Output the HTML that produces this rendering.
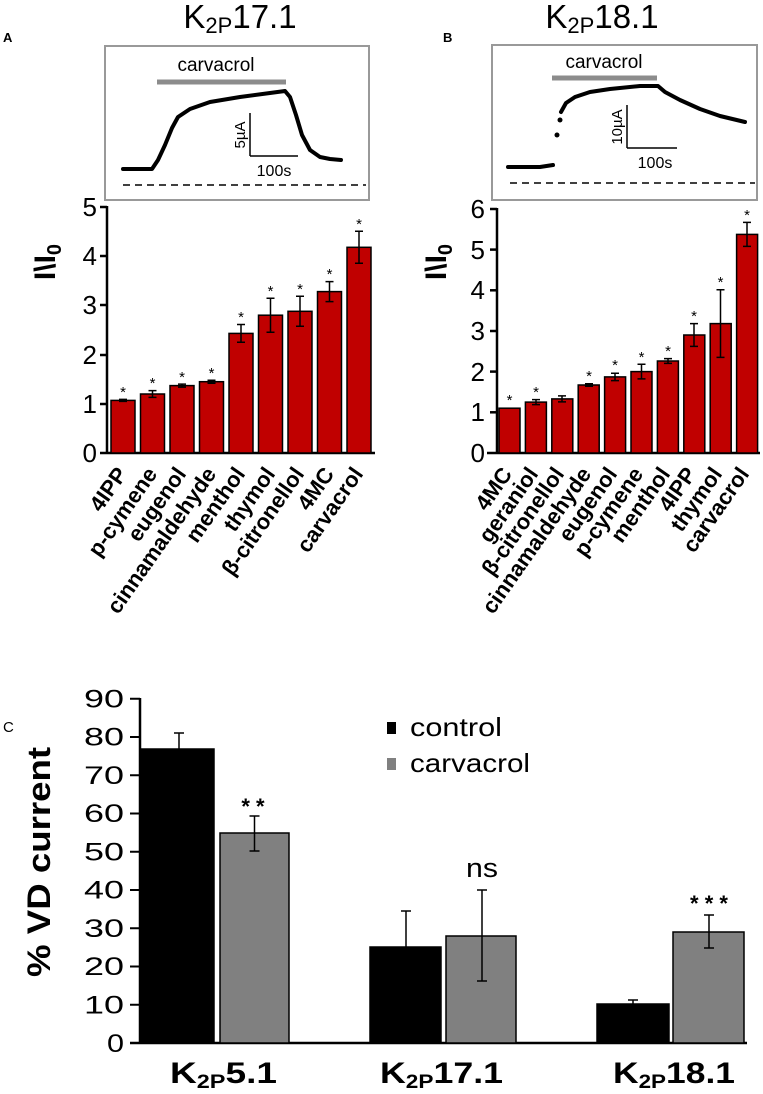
<!DOCTYPE html>
<html><head><meta charset="utf-8"><style>
html,body{margin:0;padding:0;background:#fff;overflow:hidden;}
svg{display:block;font-family:"Liberation Sans",Arial,sans-serif;}
</style></head><body>
<svg width="763" height="1094" viewBox="0 0 763 1094" xmlns="http://www.w3.org/2000/svg">
<!-- Titles -->
<text x="240" y="28" font-size="33" text-anchor="middle">K<tspan font-size="22" dy="5">2P</tspan><tspan dy="-5">17.1</tspan></text>
<text x="602" y="28" font-size="33" text-anchor="middle">K<tspan font-size="22" dy="5">2P</tspan><tspan dy="-5">18.1</tspan></text>
<text x="3" y="42" font-size="13" font-weight="bold">A</text>
<text x="443" y="42" font-size="13" font-weight="bold">B</text>
<text x="3" y="732" font-size="15">C</text>

<!-- Inset A -->
<rect x="105" y="46" width="264" height="154" fill="none" stroke="#999" stroke-width="2"/>
<text x="216" y="71" font-size="19" text-anchor="middle">carvacrol</text>
<line x1="157" y1="82" x2="286" y2="82" stroke="#8c8c8c" stroke-width="5"/>
<polyline fill="none" stroke="#000" stroke-width="4" stroke-linecap="round" stroke-linejoin="round" points="123,169 152,169 158,160 165,145 172,128 178,117 190,109 210,102 240,97 270,93 285,91 290,97 296,115 302,135 310,150 320,157 330,159 341,160"/>
<line x1="250" y1="113" x2="250" y2="156" stroke="#000" stroke-width="1.5"/>
<line x1="250" y1="156" x2="298" y2="156" stroke="#000" stroke-width="1.5"/>
<text transform="translate(245,135) rotate(-90)" font-size="15" text-anchor="middle">5µA</text>
<text x="274" y="176" font-size="16" text-anchor="middle">100s</text>
<line x1="123" y1="185" x2="366" y2="185" stroke="#000" stroke-width="1.5" stroke-dasharray="7,5"/>

<!-- Inset B -->
<rect x="492" y="45" width="265" height="155" fill="none" stroke="#999" stroke-width="2"/>
<text x="604" y="68" font-size="19" text-anchor="middle">carvacrol</text>
<line x1="552" y1="78" x2="657" y2="78" stroke="#8c8c8c" stroke-width="5"/>
<polyline fill="none" stroke="#000" stroke-width="4" stroke-linecap="round" stroke-linejoin="round" points="508,167 540,167 553,165"/>
<circle cx="557" cy="135" r="2.5"/>
<circle cx="560" cy="120" r="2.5"/>
<polyline fill="none" stroke="#000" stroke-width="4" stroke-linecap="round" stroke-linejoin="round" points="561,112 566,103 575,97 590,92 610,89 640,86 658,86 665,92 680,100 700,109 720,116 745,122"/>
<line x1="627" y1="105" x2="627" y2="148" stroke="#000" stroke-width="1.5"/>
<line x1="627" y1="148" x2="677" y2="148" stroke="#000" stroke-width="1.5"/>
<text transform="translate(622,127) rotate(-90)" font-size="15" text-anchor="middle">10µA</text>
<text x="655" y="168" font-size="16" text-anchor="middle">100s</text>
<line x1="510" y1="183" x2="755" y2="183" stroke="#000" stroke-width="1.5" stroke-dasharray="7,5"/>

<!-- Chart A axes -->
<g font-size="26" text-anchor="end">
<text x="97" y="462">0</text><text x="97" y="413">1</text><text x="97" y="364">2</text><text x="97" y="314">3</text><text x="97" y="265">4</text><text x="97" y="216">5</text>
</g>
<text transform="translate(55,262) rotate(-90)" font-size="30" font-weight="bold" text-anchor="middle">I\I<tspan font-size="20" dy="6">0</tspan></text>
<g stroke="#000" stroke-width="2.5">
<line x1="107" y1="206" x2="107" y2="454"/>
<line x1="100" y1="453" x2="375" y2="453"/>
<line x1="100" y1="207" x2="107" y2="207"/><line x1="100" y1="256" x2="107" y2="256"/><line x1="100" y1="305" x2="107" y2="305"/><line x1="100" y1="355" x2="107" y2="355"/><line x1="100" y1="404" x2="107" y2="404"/>
</g>
<g fill="#c00000" stroke="#000" stroke-width="1.5">
<rect x="111" y="400.4" width="24" height="52.6"/>
<rect x="140.5" y="394" width="24" height="59"/>
<rect x="170" y="385.6" width="24" height="67.4"/>
<rect x="199.5" y="381.7" width="24" height="71.3"/>
<rect x="229" y="333.4" width="24" height="119.6"/>
<rect x="258.5" y="315.2" width="24" height="137.8"/>
<rect x="288" y="311.3" width="24" height="141.7"/>
<rect x="317.5" y="291.6" width="24" height="161.4"/>
<rect x="347" y="247.3" width="24" height="205.7"/>
</g>
<g stroke="#000" stroke-width="1.5">
<path d="M123,399.4V401.4M119,399.4H127M119,401.4H127"/>
<path d="M152.5,390.6V397.4M148.5,390.6H156.5M148.5,397.4H156.5"/>
<path d="M182,384.1V387.1M178,384.1H186M178,387.1H186"/>
<path d="M211.5,380.2V383.2M207.5,380.2H215.5M207.5,383.2H215.5"/>
<path d="M241,324.5V342.3M237,324.5H245M237,342.3H245"/>
<path d="M270.5,298.2V332.2M266.5,298.2H274.5M266.5,332.2H274.5"/>
<path d="M300,296.3V326.3M296,296.3H304M296,326.3H304"/>
<path d="M329.5,281.6V301.6M325.5,281.6H333.5M325.5,301.6H333.5"/>
<path d="M359,231.3V263.3M355,231.3H363M355,263.3H363"/>
</g>
<g font-size="15" text-anchor="middle">
<text x="123" y="397">*</text><text x="152.5" y="388">*</text><text x="182" y="382">*</text><text x="211.5" y="378">*</text><text x="241" y="322">*</text><text x="270.5" y="296">*</text><text x="300" y="294">*</text><text x="329.5" y="279">*</text><text x="359" y="229">*</text>
</g>
<g font-size="22" font-weight="bold" text-anchor="end">
<text transform="translate(128,474) rotate(-55)">4IPP</text>
<text transform="translate(158,474) rotate(-55)">p-cymene</text>
<text transform="translate(187,474) rotate(-55)">eugenol</text>
<text transform="translate(217,474) rotate(-55)">cinnamaldehyde</text>
<text transform="translate(246,474) rotate(-55)">menthol</text>
<text transform="translate(276,474) rotate(-55)">thymol</text>
<text transform="translate(305,474) rotate(-55)">β-citronellol</text>
<text transform="translate(335,474) rotate(-55)">4MC</text>
<text transform="translate(364,474) rotate(-55)">carvacrol</text>
</g>

<!-- Chart B axes -->
<g font-size="26" text-anchor="end">
<text x="485" y="462">0</text><text x="485" y="421">1</text><text x="485" y="381">2</text><text x="485" y="340">3</text><text x="485" y="299">4</text><text x="485" y="259">5</text><text x="485" y="218">6</text>
</g>
<text transform="translate(446,262) rotate(-90)" font-size="30" font-weight="bold" text-anchor="middle">I\I<tspan font-size="20" dy="6">0</tspan></text>
<g stroke="#000" stroke-width="2.5">
<line x1="497" y1="208" x2="497" y2="454"/>
<line x1="487" y1="453" x2="760" y2="453"/>
<line x1="490" y1="209" x2="497" y2="209"/><line x1="490" y1="249.6" x2="497" y2="249.6"/><line x1="490" y1="290.3" x2="497" y2="290.3"/><line x1="490" y1="331" x2="497" y2="331"/><line x1="490" y1="371.6" x2="497" y2="371.6"/><line x1="490" y1="412.3" x2="497" y2="412.3"/>
</g>
<g fill="#c00000" stroke="#000" stroke-width="1.5">
<rect x="499" y="408.2" width="21" height="44.8"/>
<rect x="525.4" y="402.1" width="21" height="50.9"/>
<rect x="551.8" y="398.9" width="21" height="54.1"/>
<rect x="578.2" y="385" width="21" height="68"/>
<rect x="604.6" y="376.9" width="21" height="76.1"/>
<rect x="631" y="371.6" width="21" height="81.4"/>
<rect x="657.4" y="361" width="21" height="92"/>
<rect x="683.8" y="335" width="21" height="118"/>
<rect x="710.2" y="323.6" width="21" height="129.4"/>
<rect x="736.6" y="234.4" width="21" height="218.6"/>
</g>
<g stroke="#000" stroke-width="1.5">
<path d="M536,399.6V404.6M532,399.6H540M532,404.6H540"/>
<path d="M562,395.9V401.9M558,395.9H566M558,401.9H566"/>
<path d="M589,383.8V386.2M585,383.8H593M585,386.2H593"/>
<path d="M615,373.2V380.6M611,373.2H619M611,380.6H619"/>
<path d="M641.5,364.3V378.9M637.5,364.3H645.5M637.5,378.9H645.5"/>
<path d="M668,358.6V363.4M664,358.6H672M664,363.4H672"/>
<path d="M694,323.6V346.4M690,323.6H698M690,346.4H698"/>
<path d="M720.5,289.8V357.4M716.5,289.8H724.5M716.5,357.4H724.5"/>
<path d="M747,222.4V246.4M743,222.4H751M743,246.4H751"/>
</g>
<g font-size="15" text-anchor="middle">
<text x="509.5" y="405">*</text><text x="536" y="397">*</text><text x="589" y="381">*</text><text x="615" y="370">*</text><text x="641.5" y="362">*</text><text x="668" y="356">*</text><text x="694" y="321">*</text><text x="720.5" y="287">*</text><text x="747" y="220">*</text>
</g>
<g font-size="22" font-weight="bold" text-anchor="end">
<text transform="translate(513,474) rotate(-55)">4MC</text>
<text transform="translate(539,474) rotate(-55)">geraniol</text>
<text transform="translate(565,474) rotate(-55)">β-citronellol</text>
<text transform="translate(592,474) rotate(-55)">cinnamaldehyde</text>
<text transform="translate(618,474) rotate(-55)">eugenol</text>
<text transform="translate(644,474) rotate(-55)">p-cymene</text>
<text transform="translate(671,474) rotate(-55)">menthol</text>
<text transform="translate(697,474) rotate(-55)">4IPP</text>
<text transform="translate(723,474) rotate(-55)">thymol</text>
<text transform="translate(750,474) rotate(-55)">carvacrol</text>
</g>

<!-- Panel C -->
<g font-size="25" text-anchor="end">
<text x="124" y="1052" textLength="17" lengthAdjust="spacingAndGlyphs">0</text>
<text x="124" y="1013.5" textLength="40" lengthAdjust="spacingAndGlyphs">10</text>
<text x="124" y="975.2" textLength="40" lengthAdjust="spacingAndGlyphs">20</text>
<text x="124" y="937" textLength="40" lengthAdjust="spacingAndGlyphs">30</text>
<text x="124" y="898.7" textLength="40" lengthAdjust="spacingAndGlyphs">40</text>
<text x="124" y="860.5" textLength="40" lengthAdjust="spacingAndGlyphs">50</text>
<text x="124" y="822.2" textLength="40" lengthAdjust="spacingAndGlyphs">60</text>
<text x="124" y="784" textLength="40" lengthAdjust="spacingAndGlyphs">70</text>
<text x="124" y="745.7" textLength="40" lengthAdjust="spacingAndGlyphs">80</text>
<text x="124" y="707.5" textLength="40" lengthAdjust="spacingAndGlyphs">90</text>
</g>
<text transform="translate(50,862) rotate(-90)" font-size="32" font-weight="bold" text-anchor="middle" textLength="230" lengthAdjust="spacingAndGlyphs">% VD current</text>
<g stroke="#000" stroke-width="2.5">
<line x1="140" y1="698" x2="140" y2="1044"/>
<line x1="130" y1="1043" x2="747" y2="1043"/>
<g stroke-width="2">
<line x1="130" y1="698.75" x2="140" y2="698.75"/><line x1="130" y1="737" x2="140" y2="737"/><line x1="130" y1="775.25" x2="140" y2="775.25"/><line x1="130" y1="813.5" x2="140" y2="813.5"/><line x1="130" y1="851.75" x2="140" y2="851.75"/><line x1="130" y1="890" x2="140" y2="890"/><line x1="130" y1="928.25" x2="140" y2="928.25"/><line x1="130" y1="966.5" x2="140" y2="966.5"/><line x1="130" y1="1004.75" x2="140" y2="1004.75"/>
</g>
</g>
<g stroke="#000" stroke-width="1.5">
<rect x="140" y="749" width="74" height="294" fill="#000"/>
<rect x="220" y="833" width="69" height="210" fill="#808080"/>
<rect x="370" y="947" width="71" height="96" fill="#000"/>
<rect x="446" y="936" width="70" height="107" fill="#808080"/>
<rect x="597" y="1004" width="72" height="39" fill="#000"/>
<rect x="673" y="932" width="71" height="111" fill="#808080"/>
<path d="M179,733V749M174,733H184"/>
<path d="M254.5,816V851M249.5,816H259.5M249.5,851H259.5"/>
<path d="M406,911V947M401,911H411"/>
<path d="M482,890V981M477,890H487M477,981H487"/>
<path d="M633,1000V1004M628,1000H638"/>
<path d="M709,915V948M704,915H714M704,948H714"/>
</g>
<text x="253" y="814" font-size="22" font-weight="bold" text-anchor="middle">* *</text>
<text x="482" y="877" font-size="27" text-anchor="middle" textLength="32" lengthAdjust="spacingAndGlyphs">ns</text>
<text x="709" y="911" font-size="22" font-weight="bold" text-anchor="middle">* * *</text>
<rect x="387" y="722" width="9" height="12" fill="#000"/>
<rect x="387" y="758" width="9" height="12" fill="#808080"/>
<text x="410" y="736" font-size="26" textLength="92" lengthAdjust="spacingAndGlyphs">control</text>
<text x="410" y="772" font-size="26" textLength="120" lengthAdjust="spacingAndGlyphs">carvacrol</text>
<g font-size="30" font-weight="bold">
<text x="170" y="1083" textLength="107" lengthAdjust="spacingAndGlyphs">K<tspan font-size="19" dy="5">2P</tspan><tspan dy="-5">5.1</tspan></text>
<text x="380" y="1083" textLength="123" lengthAdjust="spacingAndGlyphs">K<tspan font-size="19" dy="5">2P</tspan><tspan dy="-5">17.1</tspan></text>
<text x="613" y="1083" textLength="122" lengthAdjust="spacingAndGlyphs">K<tspan font-size="19" dy="5">2P</tspan><tspan dy="-5">18.1</tspan></text>
</g>
</svg>
</body></html>
